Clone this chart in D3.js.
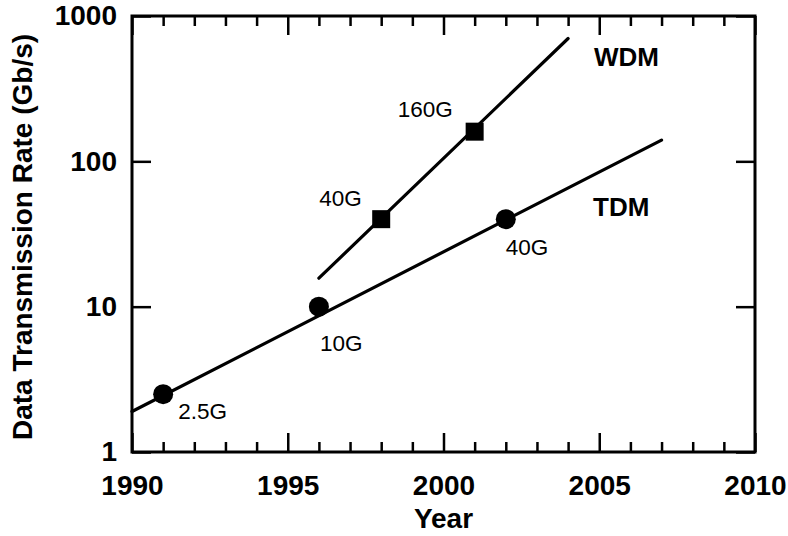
<!DOCTYPE html>
<html>
<head>
<meta charset="utf-8">
<script src="https://cdn.jsdelivr.net/npm/d3@7"></script>
<style>
  html, body { margin: 0; padding: 0; background: #fff; }
  svg text { font-family: "Liberation Sans", Arial, Helvetica, sans-serif; fill: #000; }
</style>
</head>
<body>
<svg id="chart" width="788" height="536"></svg>
<script>
// ---- data ----
const xTickLabels = [1990, 1995, 2000, 2005, 2010];
const xMinorTicks = [1991,1992,1993,1994,1996,1997,1998,1999,2001,2002,2003,2004,2006,2007,2008,2009];
const yTickLabels = [1, 10, 100, 1000];

const tdmYears = [1991, 1996, 2002];
const tdmRates = [2.5, 10, 40];
const tdmLabels = ["2.5G", "10G", "40G"];

const wdmYears = [1998, 2001];
const wdmRates = [40, 160];
const wdmLabels = ["40G", "160G"];

const tdmTrendYears = [1990, 2007];
const tdmTrendRates = [1.9, 140];
const wdmTrendYears = [1996, 2004];
const wdmTrendRates = [15.7, 700];

const seriesNames = ["WDM", "TDM"];
const seriesLabelYears = [2004.83, 2004.8];
const seriesLabelRates = [453, 42];

// ---- layout ----
const L = 132, R = 755, T = 16, B = 452;
const svg = d3.select("#chart");
const x = d3.scaleLinear().domain([1990, 2010]).range([L, R]);
const y = d3.scaleLog().domain([1, 1000]).range([B, T]);

function styleAxis(g, sw) {
  g.select(".domain").remove();
  g.selectAll(".tick line").attr("stroke", "#000").attr("stroke-width", sw);
}

// bottom major ticks + labels
svg.append("g").attr("transform", `translate(0,${B})`)
  .call(d3.axisBottom(x).tickValues(xTickLabels).tickSize(-19).tickPadding(23).tickFormat(d3.format("d")))
  .call(g => styleAxis(g, 2.5))
  .selectAll("text").attr("font-size", 28).attr("font-weight", "bold");
// bottom minor
svg.append("g").attr("transform", `translate(0,${B})`)
  .call(d3.axisBottom(x).tickValues(xMinorTicks).tickSize(-10).tickFormat(""))
  .call(g => styleAxis(g, 2.5));
// top major
svg.append("g").attr("transform", `translate(0,${T})`)
  .call(d3.axisTop(x).tickValues(xTickLabels).tickSize(-19).tickFormat(""))
  .call(g => styleAxis(g, 2.5));
// top minor
svg.append("g").attr("transform", `translate(0,${T})`)
  .call(d3.axisTop(x).tickValues(xMinorTicks).tickSize(-10).tickFormat(""))
  .call(g => styleAxis(g, 2.5));
// left
svg.append("g").attr("transform", `translate(${L},0)`)
  .call(d3.axisLeft(y).tickValues(yTickLabels).tickSize(-19).tickPadding(15).tickFormat(d3.format("d")))
  .call(g => styleAxis(g, 2.5))
  .selectAll("text").attr("font-size", 28).attr("font-weight", "bold");
// right
svg.append("g").attr("transform", `translate(${R},0)`)
  .call(d3.axisRight(y).tickValues(yTickLabels).tickSize(-19).tickFormat(""))
  .call(g => styleAxis(g, 2.5));

// frame
svg.append("rect").attr("x", L).attr("y", T).attr("width", R - L).attr("height", B - T)
  .attr("fill", "none").attr("stroke", "#000").attr("stroke-width", 3);

// axis titles
svg.append("text").attr("x", (L + R) / 2).attr("y", 528).attr("text-anchor", "middle")
  .attr("font-size", 28).attr("font-weight", "bold").text("Year");
svg.append("text").attr("transform", `translate(32,${(T + B) / 2 + 3}) rotate(-90)`)
  .attr("text-anchor", "middle").attr("font-size", 28).attr("font-weight", "bold")
  .text("Data Transmission Rate (Gb/s)");

// trend lines
const line = d3.line().x(d => x(d[0])).y(d => y(d[1]));
svg.append("path").datum(d3.zip(tdmTrendYears, tdmTrendRates))
  .attr("d", line).attr("fill", "none").attr("stroke", "#000").attr("stroke-width", 3.2).attr("stroke-linecap", "round");
svg.append("path").datum(d3.zip(wdmTrendYears, wdmTrendRates))
  .attr("d", line).attr("fill", "none").attr("stroke", "#000").attr("stroke-width", 3.2).attr("stroke-linecap", "round");

// markers
const tdm = d3.zip(tdmYears, tdmRates, tdmLabels);
const wdm = d3.zip(wdmYears, wdmRates, wdmLabels);
svg.selectAll(".tdm").data(tdm).enter().append("circle")
  .attr("cx", d => x(d[0])).attr("cy", d => y(d[1])).attr("r", 10).attr("fill", "#000");
const sq = 18;
svg.selectAll(".wdm").data(wdm).enter().append("rect")
  .attr("x", d => x(d[0]) - sq / 2).attr("y", d => y(d[1]) - sq / 2)
  .attr("width", sq).attr("height", sq).attr("fill", "#000");

// point labels (offsets are layout)
const tdmOff = [[15, 25], [1, 44], [0, 36]];
const wdmOff = [[-62, -13], [-77, -15]];
svg.selectAll(".tdml").data(tdm).enter().append("text")
  .attr("x", (d, i) => x(d[0]) + tdmOff[i][0]).attr("y", (d, i) => y(d[1]) + tdmOff[i][1])
  .attr("font-size", 22.5).text(d => d[2]);
svg.selectAll(".wdml").data(wdm).enter().append("text")
  .attr("x", (d, i) => x(d[0]) + wdmOff[i][0]).attr("y", (d, i) => y(d[1]) + wdmOff[i][1])
  .attr("font-size", 22.5).text(d => d[2]);

// series labels
svg.selectAll(".sl").data(d3.zip(seriesNames, seriesLabelYears, seriesLabelRates)).enter().append("text")
  .attr("x", d => x(d[1])).attr("y", d => y(d[2]))
  .attr("font-size", 26).attr("font-weight", "bold").text(d => d[0]);
</script>
</body>
</html>
